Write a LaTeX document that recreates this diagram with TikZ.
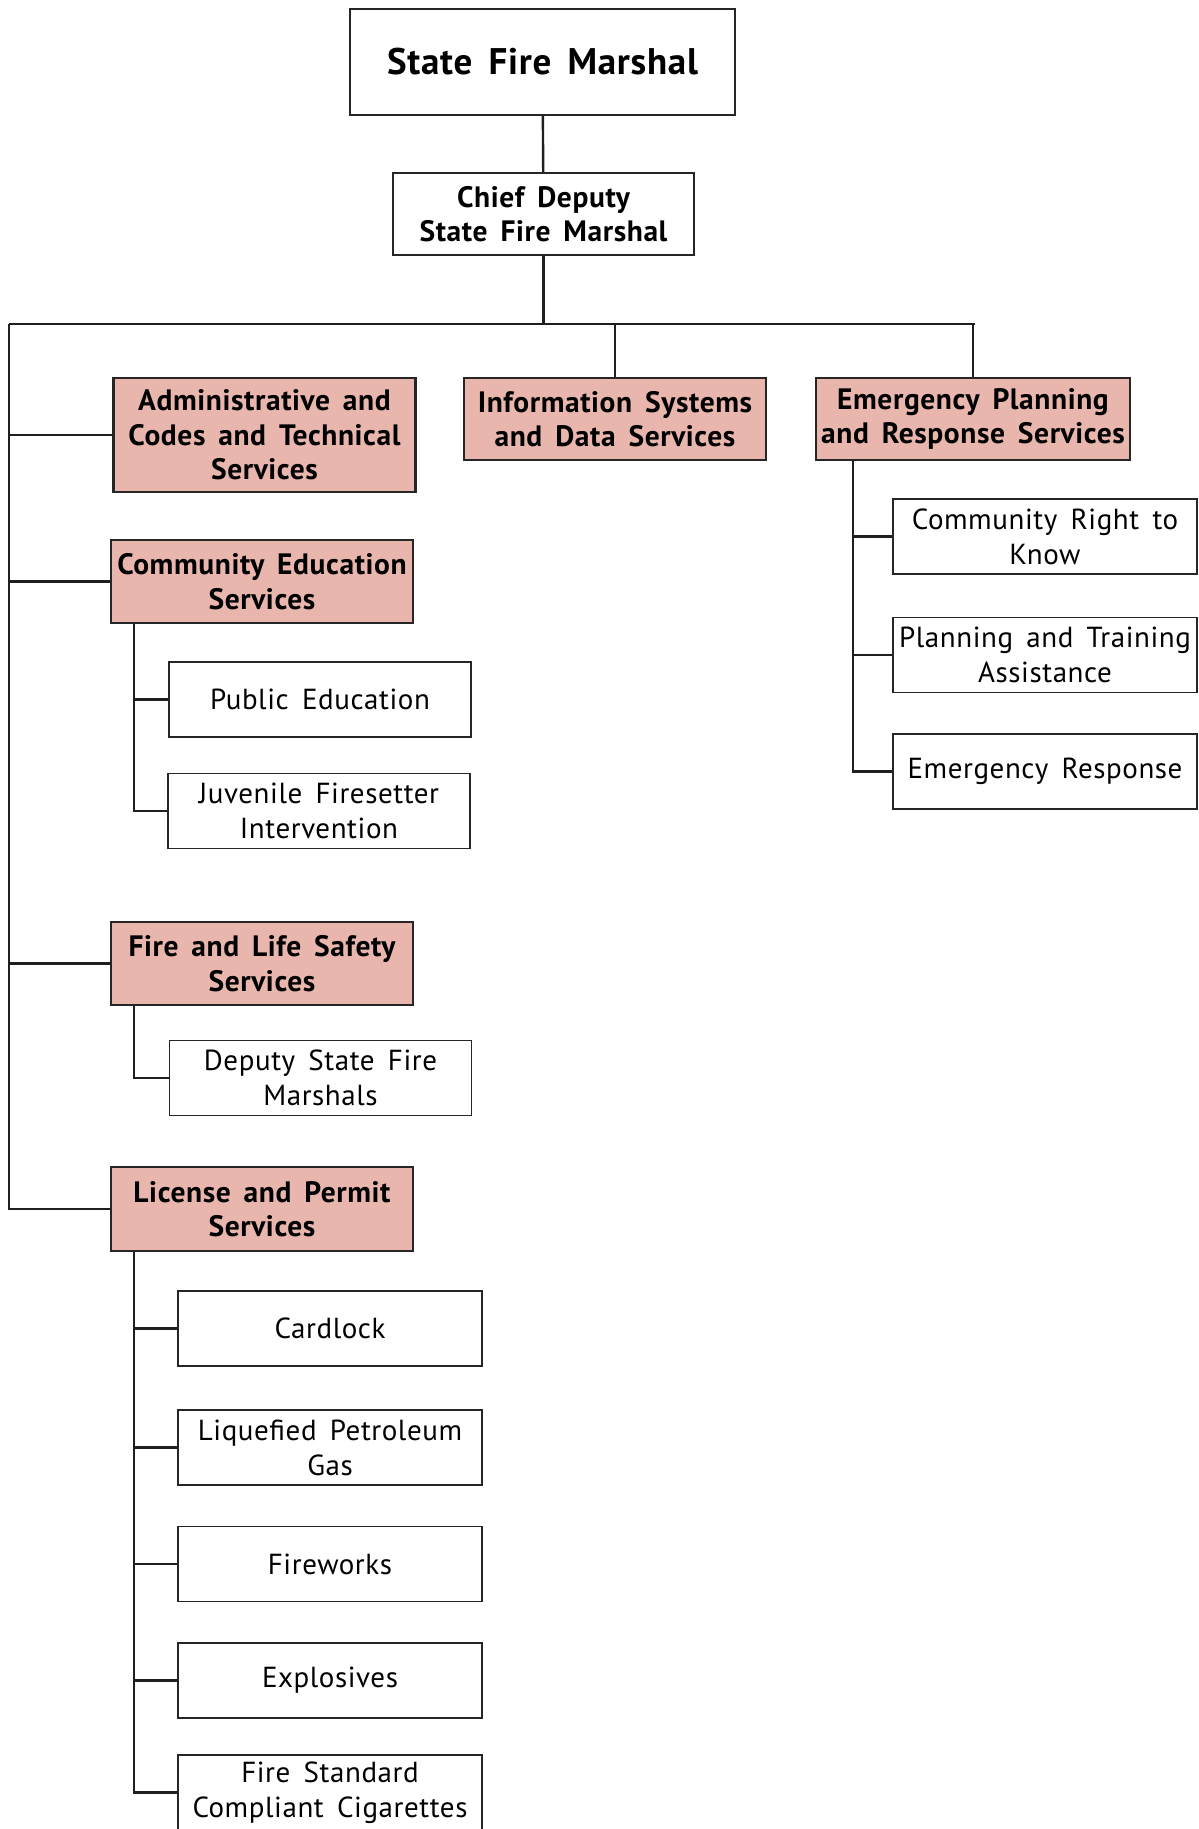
\documentclass[tikz,border=0pt]{standalone}
\usepackage{fontspec}
\setmainfont[LetterSpace=2, WordSpace=1.6]{PT Sans}
\begin{document}
\begin{tikzpicture}[x=1pt, y=-1pt,
  box/.style={draw=black!85, line width=1.4pt, fill=white, minimum width=302pt,
              minimum height=75pt, inner sep=0pt, align=center,
              font=\fontsize{29}{35}\selectfont},
  head/.style={box, line width=2.6pt, fill=pinkfill, minimum height=#1,
               font=\fontsize{29.5}{34.5}\selectfont\bfseries},
  top/.style={box, line width=2.4pt, font=\fontsize{29.5}{34.5}\selectfont\bfseries},
  line/.style={line width=2.4pt, draw=black!88}
]
\definecolor{pinkfill}{HTML}{E8B6AD}
\useasboundingbox (0,0) rectangle (1199,1829);
% top of the chart
\node[top, minimum width=385pt, minimum height=106pt,
      font=\fontsize{37}{40}\selectfont\bfseries] (smf) at (542.5,62) {State Fire Marshal};
\node[top, minimum width=301pt, minimum height=82pt] (cdsm) at (543.5,214) {Chief Deputy\\State Fire Marshal};
\coordinate (busL) at (9,324);
\coordinate (busR) at (975,324);
% divisions
\node[head=114pt] (adm)  at (264.5,435) {Administrative and\\Codes and Technical\\Services};
\node[head=82pt]  (isd)  at (615,419)   {Information Systems\\and Data Services};
\node[head=82pt, minimum width=314pt] (epr) at (973,419) {Emergency Planning\\and Response Services};
\node[head=83pt]  (ced)  at (262,581.5) {Community Education\\Services};
\node[head=83pt]  (fls)  at (262,963.5) {Fire and Life Safety\\Services};
\node[head=84pt]  (lps)  at (262,1209)  {License and Permit\\Services};
% sections
\node[box] (pub)  at (320,699.5)  {Public Education};
\node[box] (juv)  at (319,811)    {Juvenile Firesetter\\Intervention};
\node[box] (dsfm) at (320.5,1078) {Deputy State Fire\\Marshals};
\node[box, minimum width=304pt] (crd)  at (330,1328.5) {Cardlock};
\node[box, minimum width=304pt] (lpg)  at (330,1447.5) {Liquefied Petroleum\\Gas};
\node[box, minimum width=304pt] (fwk)  at (330,1564)   {Fireworks};
\node[box, minimum width=304pt] (exp)  at (330,1680.5) {Explosives};
\node[box, minimum width=304pt] (fsc)  at (330,1792.5) {Fire Standard\\Compliant Cigarettes};
\node[box, minimum width=304pt] (crk)  at (1045,536.5) {Community Right to\\Know};
\node[box, minimum width=304pt] (pta)  at (1045,655)   {Planning and Training\\Assistance};
\node[box, minimum width=304pt] (ers)  at (1045,771.5) {Emergency Response};
% connectors
\draw[line](smf)--(cdsm); \draw[line](cdsm.south)--(cdsm.south |- busL);
\draw[line](busL)--(busR); \draw[line](busL)|-(lps.west);
\draw[line](isd.north)--(isd.north |- busL); \draw[line](epr.north)--(epr.north |- busL);
\draw[line](busL |- adm.west)--(adm.west); \draw[line](busL |- ced.west)--(ced.west);
\draw[line](busL |- fls.west)--(fls.west);
\draw[line]([xshift=24pt]ced.south west)|-(juv.west); \draw[line]([xshift=24pt]ced.south west)|-(pub.west);
\draw[line]([xshift=24pt]fls.south west)|-(dsfm.west);
\draw[line]([xshift=24pt]lps.south west)|-(fsc.west); \draw[line]([xshift=24pt]lps.south west)|-(crd.west);
\draw[line]([xshift=24pt]lps.south west)|-(lpg.west); \draw[line]([xshift=24pt]lps.south west)|-(fwk.west);
\draw[line]([xshift=24pt]lps.south west)|-(exp.west);
\draw[line]([xshift=38pt]epr.south west)|-(ers.west); \draw[line]([xshift=38pt]epr.south west)|-(crk.west);
\draw[line]([xshift=38pt]epr.south west)|-(pta.west);
\end{tikzpicture}
\end{document}
